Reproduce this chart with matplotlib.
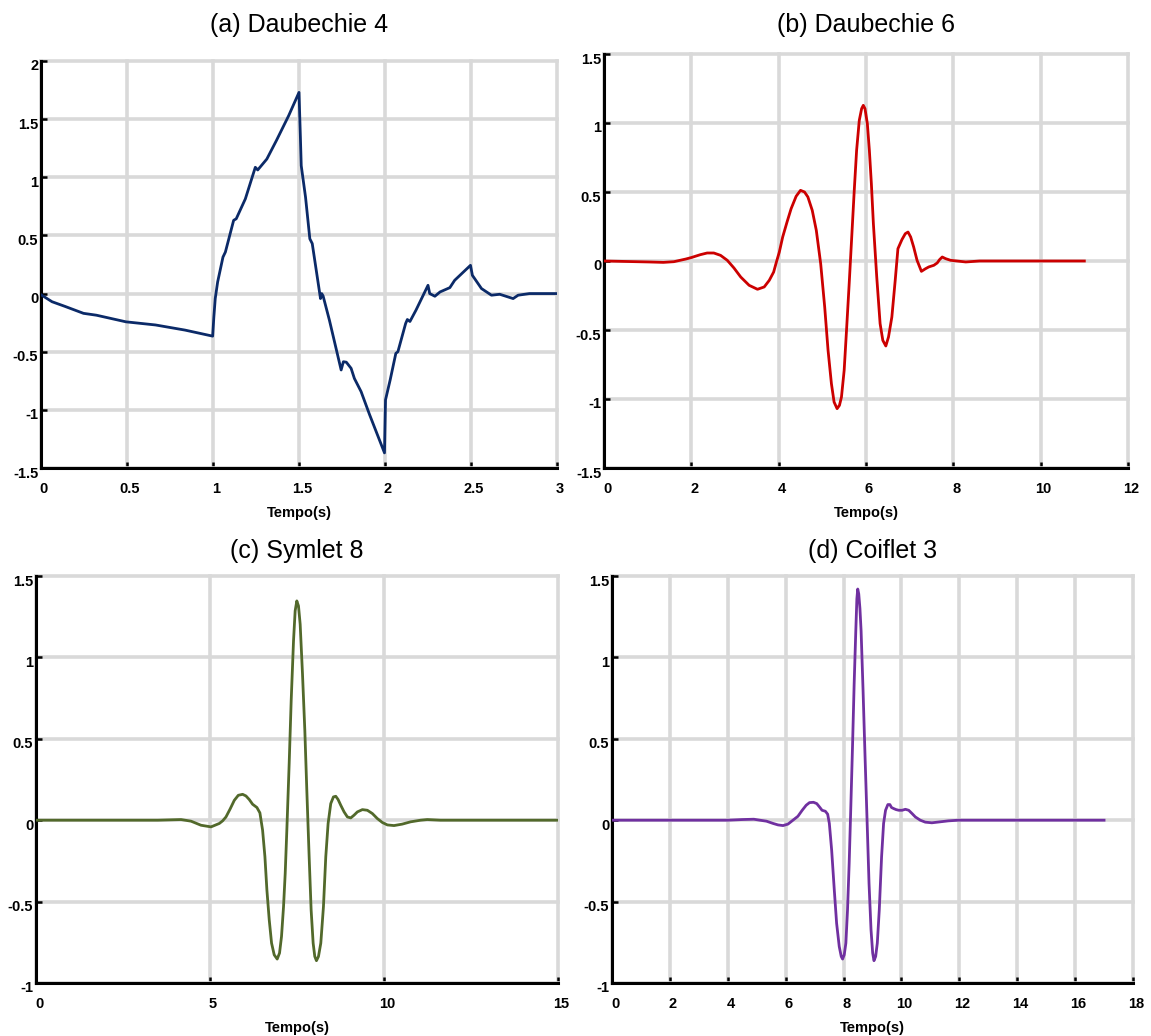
import matplotlib
matplotlib.use('Agg')
import matplotlib.pyplot as plt
from matplotlib.ticker import FormatStrFormatter
from matplotlib.transforms import ScaledTranslation

plt.rcParams['font.family'] = ['Liberation Sans', 'DejaVu Sans']

# (a) Daubechie 4
t_db4 = [0, 0.064, 0.139, 0.247, 0.322, 0.494, 0.666, 0.837, 0.998, 1.005, 1.013, 1.027,
         1.058, 1.072, 1.12, 1.135, 1.188, 1.246, 1.26, 1.313, 1.37, 1.44, 1.5, 1.508, 1.513,
         1.538, 1.563, 1.577, 1.625, 1.632, 1.64, 1.677, 1.745, 1.758, 1.775, 1.803, 1.822,
         1.861, 1.91, 1.997, 2.003, 2.03, 2.063, 2.075, 2.12, 2.13, 2.145, 2.18, 2.25, 2.26,
         2.29, 2.32, 2.377, 2.405, 2.497, 2.508, 2.561, 2.619, 2.667, 2.745, 2.774, 2.84, 3.0]
v_db4 = [-0.01, -0.07, -0.11, -0.17, -0.186, -0.243, -0.27, -0.314, -0.366, -0.2, -0.043, 0.1,
         0.314, 0.357, 0.63, 0.643, 0.814, 1.086, 1.063, 1.157, 1.32, 1.53, 1.73, 1.35, 1.1,
         0.829, 0.471, 0.43, -0.043, 0.0, -0.02, -0.23, -0.657, -0.586, -0.59, -0.643, -0.73,
         -0.843, -1.04, -1.37, -0.914, -0.743, -0.514, -0.5, -0.257, -0.223, -0.24, -0.143, 0.071,
         0.0, -0.023, 0.014, 0.051, 0.114, 0.243, 0.157, 0.043, -0.014, -0.006, -0.043, -0.014,
         0.0, 0.0]

# (b) Daubechie 6
t_db6 = [0, 1.03, 1.36, 1.6, 1.87, 2.0, 2.208, 2.362, 2.515, 2.669, 2.823, 2.977, 3.131, 3.323,
         3.515, 3.669, 3.785, 3.885, 3.938, 4.015, 4.092, 4.192, 4.285, 4.4, 4.5, 4.592, 4.669,
         4.769, 4.862, 4.962, 5.054, 5.131, 5.208, 5.269, 5.338, 5.392, 5.438, 5.5, 5.554,
         5.615, 5.669, 5.731, 5.785, 5.846, 5.9, 5.938, 5.977, 6.031, 6.077, 6.123, 6.169,
         6.246, 6.323, 6.385, 6.454, 6.515, 6.592, 6.669, 6.731, 6.823, 6.9, 6.962, 7.023,
         7.092, 7.169, 7.269, 7.362, 7.438, 7.554, 7.631, 7.685, 7.746, 7.823, 7.938, 8.285,
         8.6, 11.0]
v_db6 = [0, -0.007, -0.01, -0.005, 0.014, 0.025, 0.046, 0.058, 0.058, 0.041, 0.005, -0.051,
         -0.116, -0.176, -0.205, -0.188, -0.14, -0.08, -0.019, 0.065, 0.174, 0.283, 0.379,
         0.469, 0.512, 0.5, 0.464, 0.367, 0.222, -0.019, -0.333, -0.647, -0.889, -1.022, -1.07,
         -1.046, -0.986, -0.792, -0.502, -0.164, 0.15, 0.512, 0.802, 1.019, 1.104, 1.128, 1.104,
         0.995, 0.802, 0.56, 0.271, -0.116, -0.454, -0.575, -0.616, -0.551, -0.406, -0.14,
         0.089, 0.155, 0.198, 0.21, 0.174, 0.101, 0.005, -0.075, -0.056, -0.043, -0.031,
         -0.014, 0.01, 0.029, 0.017, 0.005, -0.007, 0.0, 0.0]

# (c) Symlet 8
t_sym8 = [0, 3.5, 4.0, 4.168, 4.455, 4.742, 5.029, 5.268, 5.363, 5.459, 5.583, 5.698, 5.813,
          5.937, 6.033, 6.128, 6.224, 6.348, 6.434, 6.511, 6.578, 6.635, 6.702, 6.769, 6.845,
          6.931, 6.998, 7.055, 7.113, 7.161, 7.208, 7.275, 7.333, 7.4, 7.447, 7.495, 7.543,
          7.591, 7.658, 7.725, 7.782, 7.849, 7.906, 7.964, 8.011, 8.059, 8.117, 8.184, 8.26,
          8.327, 8.394, 8.47, 8.547, 8.614, 8.681, 8.757, 8.853, 8.948, 9.044, 9.14, 9.235,
          9.379, 9.522, 9.665, 9.809, 9.952, 10.096, 10.287, 10.526, 10.765, 11.052, 11.243,
          11.625, 15.0]
v_sym8 = [0, 0, 0.003, 0.004, -0.006, -0.031, -0.041, -0.02, -0.004, 0.02, 0.071, 0.122, 0.153,
          0.159, 0.149, 0.127, 0.098, 0.078, 0.045, -0.061, -0.224, -0.429, -0.612, -0.755,
          -0.827, -0.853, -0.816, -0.714, -0.531, -0.327, -0.061, 0.347, 0.735, 1.102, 1.286,
          1.347, 1.316, 1.204, 0.898, 0.551, 0.184, -0.224, -0.551, -0.755, -0.837, -0.863,
          -0.837, -0.755, -0.531, -0.224, -0.02, 0.102, 0.143, 0.147, 0.127, 0.092, 0.051, 0.02,
          0.014, 0.031, 0.051, 0.065, 0.061, 0.041, 0.01, -0.014, -0.029, -0.033, -0.024, -0.01,
          0.0, 0.004, 0, 0]

# (d) Coiflet 3
t_coif3 = [0, 4.0, 4.5, 4.9, 5.109, 5.337, 5.566, 5.737, 5.909, 6.08, 6.251, 6.423, 6.571,
           6.709, 6.823, 6.96, 7.074, 7.166, 7.257, 7.371, 7.451, 7.509, 7.589, 7.68, 7.76,
           7.851, 7.92, 7.966, 8.023, 8.08, 8.137, 8.194, 8.251, 8.309, 8.366, 8.423, 8.46,
           8.49, 8.525, 8.566, 8.606, 8.674, 8.743, 8.823, 8.88, 8.949, 9.006, 9.051, 9.109,
           9.166, 9.234, 9.314, 9.383, 9.451, 9.531, 9.6, 9.657, 9.737, 9.817, 9.909, 10.023,
           10.137, 10.251, 10.366, 10.48, 10.651, 10.823, 11.051, 11.337, 11.623, 11.966, 17.0]
v_coif3 = [0, 0, 0.004, 0.006, 0.0, -0.006, -0.02, -0.029, -0.033, -0.024, 0.0, 0.024, 0.061,
           0.092, 0.108, 0.11, 0.102, 0.082, 0.061, 0.055, 0.037, -0.02, -0.184, -0.429, -0.633,
           -0.776, -0.837, -0.853, -0.827, -0.755, -0.551, -0.265, 0.082, 0.449, 0.837, 1.163,
           1.36, 1.42, 1.39, 1.3, 1.163, 0.796, 0.388, -0.061, -0.388, -0.673, -0.816, -0.863,
           -0.837, -0.755, -0.551, -0.224, -0.02, 0.061, 0.096, 0.096, 0.078, 0.071, 0.065, 0.061,
           0.061, 0.067, 0.061, 0.041, 0.02, 0.0, -0.012, -0.016, -0.01, -0.004, 0, 0]

titles = ['(a) Daubechie 4', '(b) Daubechie 6', '(c) Symlet 8', '(d) Coiflet 3']
cores = ['#0b2a68', '#cc0000', '#52692b', '#7030a0']
xticks = [[0, 0.5, 1, 1.5, 2, 2.5, 3], list(range(0, 13, 2)), [0, 5, 10, 15], list(range(0, 19, 2))]
yticks = [[-1.5, -1, -0.5, 0, 0.5, 1, 1.5, 2], [-1.5, -1, -0.5, 0, 0.5, 1, 1.5],
          [-1, -0.5, 0, 0.5, 1, 1.5], [-1, -0.5, 0, 0.5, 1, 1.5]]
dados = [(t_db4, v_db4), (t_db6, v_db6), (t_sym8, v_sym8), (t_coif3, v_coif3)]

W, H = 1151, 1036
# caixas em pixels: esquerda, topo, direita, base
caixas = [(41, 61, 557, 468), (604, 54, 1128, 468), (36, 576, 558, 983), (612, 576, 1133, 983)]
pads = [21, 16, 13, 13]

fig = plt.figure(figsize=(W / 100, H / 100), dpi=100)

for i in range(4):
    l, t, r, b = caixas[i]
    ax = fig.add_axes([l / W, 1 - b / H, (r - l) / W, (b - t) / H])
    ax.plot(dados[i][0], dados[i][1], color=cores[i], lw=2.0, zorder=3)
    ax.set_xlim(xticks[i][0], xticks[i][-1])
    ax.set_ylim(yticks[i][0], yticks[i][-1])
    ax.set_xticks(xticks[i])
    ax.set_yticks(yticks[i])
    ax.xaxis.set_major_formatter(FormatStrFormatter('%g'))
    ax.yaxis.set_major_formatter(FormatStrFormatter('%g'))
    ax.set_axisbelow(True)
    ax.grid(True, color='#d9d9d9', lw=2.6)
    for g in ax.get_xgridlines() + ax.get_ygridlines():
        g.set_clip_on(False)
    ax.spines['top'].set_visible(False)
    ax.spines['right'].set_visible(False)
    ax.spines['left'].set_linewidth(2.2)
    ax.spines['bottom'].set_linewidth(2.2)
    ax.tick_params(axis='both', direction='in', length=4, width=1.8, labelsize=10.5)
    ax.tick_params(axis='x', pad=10)
    ax.tick_params(axis='y', pad=2)
    for lab in ax.get_xticklabels() + ax.get_yticklabels():
        lab.set_fontweight('bold')
    for lab in ax.get_yticklabels():
        lab.set_transform(lab.get_transform() + ScaledTranslation(0, -4 / 100, fig.dpi_scale_trans))
    for lab in ax.get_xticklabels():
        lab.set_transform(lab.get_transform() + ScaledTranslation(3 / 100, 0, fig.dpi_scale_trans))
    ax.set_xlabel('Tempo(s)', fontsize=10.5, fontweight='bold', labelpad=7)
    ax.set_title(titles[i], fontsize=18, pad=pads[i])

fig.savefig('out.png', dpi=100)
